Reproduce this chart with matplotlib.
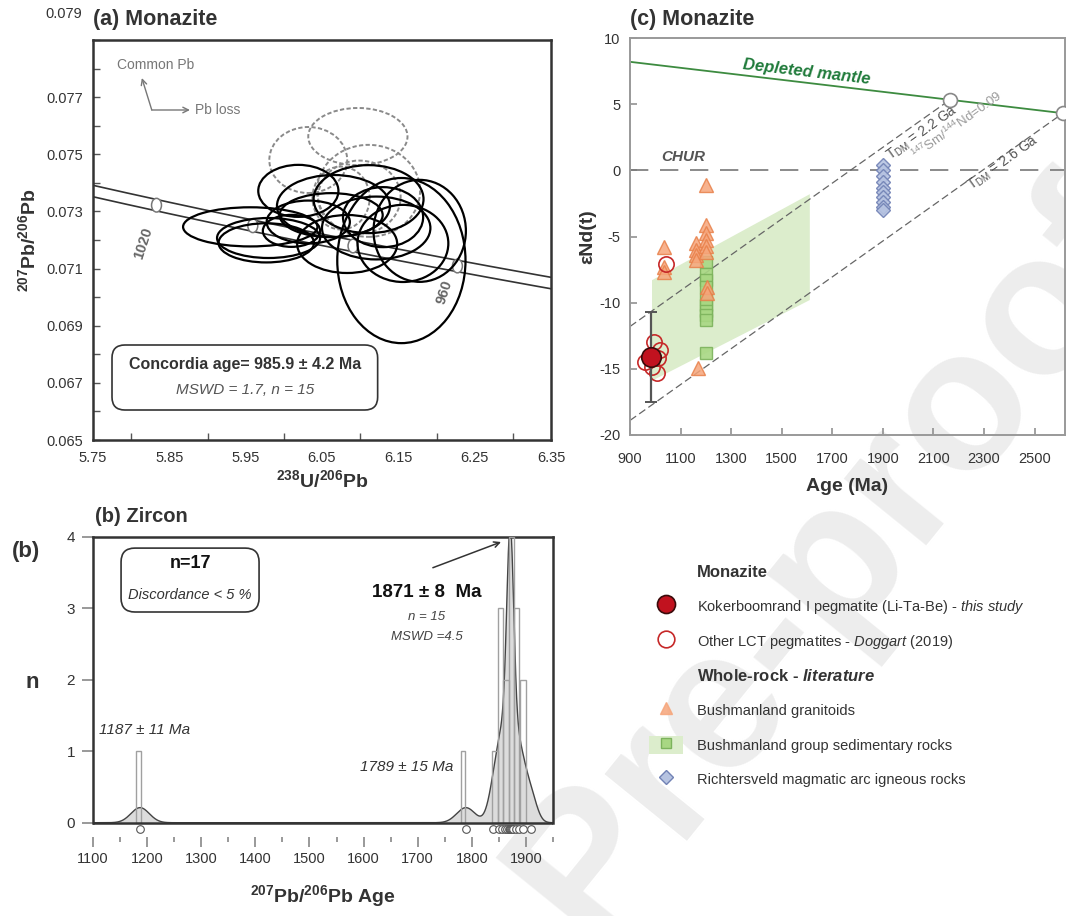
import numpy as np
import matplotlib
matplotlib.use("Agg")
import matplotlib.pyplot as plt
from matplotlib.patches import Ellipse, FancyBboxPatch, Polygon, Rectangle
from matplotlib.lines import Line2D
from matplotlib.legend_handler import HandlerTuple

FONT = "Liberation Sans"
plt.rcParams["font.family"] = [FONT, "DejaVu Sans"]
plt.rcParams["mathtext.fontset"] = "custom"
plt.rcParams["mathtext.rm"] = FONT
plt.rcParams["mathtext.it"] = FONT + ":italic"
plt.rcParams["mathtext.bf"] = FONT + ":bold"
plt.rcParams["mathtext.bfit"] = FONT + ":italic:bold"
plt.rcParams["axes.unicode_minus"] = False

# ---------------- (a) monazite U-Pb (Tera-Wasserburg) ----------------
conc_marks = [1020, 1000, 980, 960]          # ages marked on concordia (Ma)
# accepted analyses (2 sigma ellipses)
ell_x = [6.154, 5.956, 5.980, 5.977, 6.019, 6.065, 6.111, 6.178, 6.156, 6.083, 6.032, 6.062, 6.121, 6.010, 6.130]
ell_y = [0.07128, 0.07246, 0.07207, 0.07190, 0.07372, 0.07319, 0.07343, 0.07232, 0.07188, 0.07186, 0.07263, 0.07287, 0.07242, 0.07232, 0.07280]
ell_w = [0.168, 0.176, 0.135, 0.125, 0.105, 0.148, 0.144, 0.121, 0.119, 0.131, 0.109, 0.135, 0.142, 0.075, 0.105]
ell_h = [0.00578, 0.00137, 0.00140, 0.00137, 0.00182, 0.00217, 0.00238, 0.00357, 0.00270, 0.00203, 0.00150, 0.00154, 0.00220, 0.00112, 0.00210]
# rejected analyses (dashed)
rej_x = [6.097, 6.032, 6.111, 6.099, 6.075]
rej_y = [0.07562, 0.07480, 0.07372, 0.07350, 0.07347]
rej_w = [0.130, 0.102, 0.135, 0.108, 0.075]
rej_h = [0.00200, 0.00231, 0.00322, 0.00256, 0.00220]

LAM238, LAM235, U85 = 1.55125e-4, 9.8485e-4, 137.88   # decay constants per Ma


def tera_wasserburg(t):
    t = np.asarray(t, float)
    d = np.expm1(LAM238 * t)
    return 1.0 / d, np.expm1(LAM235 * t) / d / U85


# ---------------- (b) zircon 207Pb/206Pb ages ----------------
zr_age = [1187, 1789, 1840, 1850, 1856, 1861, 1865, 1868, 1870, 1871, 1872, 1874, 1877, 1881, 1887, 1895, 1910]
zr_sig = [17, 17, 11, 11, 11, 11, 11, 6, 6, 6, 6, 6, 11, 11, 11, 11, 11]
hist_left = [1180, 1780, 1838, 1849, 1858, 1869, 1878, 1889]
hist_width = [9, 8, 11, 9, 11, 9, 10, 11]
hist_n = [1, 1, 1, 3, 2, 4, 3, 2]
PDP_SCALE = 9.0

# ---------------- (c) Nd isotopes ----------------
dm_age = [900, 2620]
dm_eps = [8.2, 4.3]
tdm_age = [2165, 2612]
smnd_start_age = [900, 900]
smnd_start_eps = [-11.8, -18.9]
field_age = [987, 1611, 1611, 987]
field_eps = [-8.3, -1.8, -9.8, -15.9]
kb_age = [983]
kb_eps = [-14.1]
kb_err = [3.4]
dg_age = [995, 1018, 959, 1012, 986, 1005, 1042]
dg_eps = [-12.95, -13.6, -14.5, -14.2, -14.85, -15.3, -7.1]
gr_age = [1034, 1034, 1034, 1161, 1161, 1161, 1161, 1200, 1200, 1200, 1200, 1200, 1200, 1206, 1206, 1168]
gr_eps = [-5.8, -7.3, -7.7, -5.5, -6.0, -6.4, -6.8, -1.1, -4.1, -4.7, -5.3, -5.7, -6.2, -8.8, -9.3, -14.9]
sed_age = [1200] * 10
sed_eps = [-6.9, -7.8, -8.3, -8.8, -9.7, -10.2, -10.6, -10.9, -11.3, -13.8]
rv_age = [1900] * 10
rv_eps = [0.4, 0.0, -0.4, -0.9, -1.3, -1.6, -2.0, -2.4, -2.8, -3.0]

DARK = "#333333"
W, H = 1066, 916
fig = plt.figure(figsize=(W / 100, H / 100), dpi=100)


def px_rect(l, t, r, b):
    return [l / W, 1 - b / H, (r - l) / W, (b - t) / H]


# watermark
fig.text(835 / W, 1 - 560 / H, "Pre-proof", rotation=51, fontsize=145, color="#ededed",
         fontweight="bold", ha="center", va="center", zorder=-5)

# ===================== panel (a) =====================
axa = fig.add_axes(px_rect(93, 40, 551, 440))
axa.set_facecolor("none")
t = np.linspace(900, 1100, 400)
cx, cy = tera_wasserburg(t)
for off in (-0.0002, 0.0002):
    axa.plot(cx, cy + off, color=DARK, lw=1.2, zorder=2)
mx, my = tera_wasserburg(conc_marks)
for x, y in zip(mx, my):
    axa.add_patch(Ellipse((x, y), 0.013, 0.00048, fc="white", ec="#777777", lw=1.1, zorder=3))
for x, y, w, h in zip(rej_x, rej_y, rej_w, rej_h):
    axa.add_patch(Ellipse((x, y), w, h, fc="none", ec="#8a8a8a", lw=1.4, ls=(0, (2.2, 1.2)), zorder=4))
for x, y, w, h in zip(ell_x, ell_y, ell_w, ell_h):
    axa.add_patch(Ellipse((x, y), w, h, fc="none", ec="black", lw=1.6, zorder=5))

axa.text(5.816, 0.0719, "1020", rotation=72, color="#666666", fontsize=10.5, fontweight="bold",
         ha="center", va="center")
axa.text(6.210, 0.07018, "960", rotation=72, color="#666666", fontsize=10.5, fontweight="bold",
         ha="center", va="center")

arr = dict(arrowstyle="->", color="#777777", lw=1.0, shrinkA=0, shrinkB=0)
axa.annotate("", xy=(5.814, 0.07767), xytext=(5.827, 0.07655), arrowprops=arr)
axa.annotate("", xy=(5.877, 0.07655), xytext=(5.827, 0.07655), arrowprops=arr)
axa.text(5.782, 0.07812, "Common Pb", color="#777777", fontsize=10, va="center")
axa.text(5.884, 0.07655, "Pb loss", color="#777777", fontsize=10, va="center")

axa.add_patch(FancyBboxPatch((0.0415, 0.075), 0.58, 0.1625, boxstyle="round,pad=0,rounding_size=0.028",
                             transform=axa.transAxes, fc="white", ec=DARK, lw=1.2, zorder=6,
                             mutation_aspect=458 / 400))
axa.text(0.332, 0.19, "Concordia age= 985.9 ± 4.2 Ma", transform=axa.transAxes, ha="center",
         va="center", fontsize=11.5, fontweight="bold", color=DARK, zorder=7)
axa.text(0.332, 0.125, "MSWD = 1.7, n = 15", transform=axa.transAxes, ha="center", va="center",
         fontsize=11, style="italic", color="#555555", zorder=7)

axa.set_xlim(5.75, 6.35)
axa.set_ylim(0.065, 0.079)
xt = np.round(np.arange(5.75, 6.351, 0.1), 2)
axa.set_xticks(xt)
axa.set_xticklabels([f"{v:.2f}" for v in xt])
axa.set_xticks(np.round(np.arange(5.80, 6.35, 0.1), 2), minor=True)
yt = np.round(np.arange(0.065, 0.0791, 0.002), 3)
axa.set_yticks(yt)
axa.set_yticklabels([f"{v:.3f}" if v < 0.0789 else "" for v in yt])
axa.set_yticks(np.round(np.arange(0.066, 0.079, 0.002), 3), minor=True)
axa.text(-0.024, 0.0799, "0.079", transform=axa.get_yaxis_transform(), ha="right", va="center",
         fontsize=10.5, color=DARK)
axa.tick_params(which="both", direction="in", length=5, width=1, color="#555555",
                labelsize=10.5, labelcolor=DARK)
axa.tick_params(axis="x", which="major", length=0, pad=8)
axa.tick_params(axis="y", which="major", pad=7)
for s in axa.spines.values():
    s.set_color(DARK)
    s.set_linewidth(1.8)
axa.set_xlabel(r"$\mathbf{^{238}U/^{206}Pb}$", fontsize=14, labelpad=3, color=DARK)
axa.set_ylabel(r"$\mathbf{^{207}Pb/^{206}Pb}$", fontsize=14, labelpad=5, color=DARK)
fig.text(93 / W, 1 - 20 / H, "(a) Monazite", ha="left", va="center", fontsize=15.5,
         fontweight="bold", color=DARK)

# ===================== panel (b) =====================
axb = fig.add_axes(px_rect(93, 537, 553, 837))
axb.set_facecolor("none")
xg = np.linspace(1100, 1950, 3000)
pdp = np.zeros_like(xg)
for a, s in zip(zr_age, zr_sig):
    pdp += np.exp(-0.5 * ((xg - a) / s) ** 2) / (s * np.sqrt(2 * np.pi))
pdp *= PDP_SCALE
axb.fill_between(xg, 0, pdp, where=pdp > 0.004, color="#dcdcdc", lw=0, zorder=1)
axb.plot(xg, pdp, color="#444444", lw=1.0, zorder=2)
axb.bar(hist_left, hist_n, width=hist_width, align="edge", fc="none", ec="#a0a0a0", lw=1.0, zorder=3)
axb.plot(zr_age, np.full(len(zr_age), -0.09), "o", mfc="white", mec="#555555", ms=5.5, mew=0.8,
         clip_on=False, zorder=4)
axb.axhline(0, color=DARK, lw=1.8, zorder=5)
axb.set_xlim(1100, 1950)
axb.set_ylim(-0.2, 4)
axb.spines["bottom"].set_visible(False)
for k in ("left", "right"):
    axb.spines[k].set_bounds(0, 4)
for k in ("left", "right", "top"):
    axb.spines[k].set_color(DARK)
    axb.spines[k].set_linewidth(1.8)
axb.set_yticks([0, 1, 2, 3, 4])
axb.set_xticks(np.arange(1100, 1901, 100))
axb.set_xticks(np.arange(1150, 1951, 100), minor=True)
axb.tick_params(axis="y", direction="out", length=8, width=1.2, color="#888888", labelsize=11,
                labelcolor=DARK, pad=5)
axb.tick_params(axis="x", which="major", direction="out", length=7, width=1.2, color="#888888",
                labelsize=10.5, labelcolor=DARK, pad=4)
axb.tick_params(axis="x", which="minor", direction="out", length=3.5, width=1.2, color="#888888")

axb.text(1196, 1.3, "1187 ± 11 Ma", style="italic", fontsize=11, ha="center", va="center", color=DARK)
axb.text(1680, 0.78, "1789 ± 15 Ma", style="italic", fontsize=11, ha="center", va="center", color=DARK)
axb.text(1717, 3.22, "1871 ± 8  Ma", fontweight="bold", fontsize=13.5, ha="center", va="center", color="#111111")
axb.text(1717, 2.88, "n = 15", style="italic", fontsize=9.5, ha="center", va="center", color="#444444")
axb.text(1717, 2.60, "MSWD =4.5", style="italic", fontsize=9.5, ha="center", va="center", color="#444444")
axb.annotate("", xy=(1854, 3.93), xytext=(1728, 3.57),
             arrowprops=dict(arrowstyle="->", color=DARK, lw=1.1, shrinkA=0, shrinkB=0))
axb.add_patch(FancyBboxPatch((0.061, 0.75), 0.30, 0.213, boxstyle="round,pad=0,rounding_size=0.03",
                             transform=axb.transAxes, fc="white", ec=DARK, lw=1.2, zorder=6,
                             mutation_aspect=460 / 300))
axb.text(0.211, 0.913, "n=17", transform=axb.transAxes, ha="center", va="center", fontsize=13,
         fontweight="bold", color="#111111", zorder=7)
axb.text(0.211, 0.807, "Discordance < 5 %", transform=axb.transAxes, ha="center", va="center",
         fontsize=10.5, style="italic", color=DARK, zorder=7)
axb.set_xlabel(r"$\mathbf{^{207}Pb/^{206}Pb\ Age}$", fontsize=14, labelpad=12, color=DARK)
fig.text(95 / W, 1 - 517 / H, "(b) Zircon", ha="left", va="center", fontsize=14.5, fontweight="bold", color=DARK)
fig.text(26 / W, 1 - 552 / H, "(b)", ha="center", va="center", fontsize=16, fontweight="bold", color=DARK)
fig.text(32 / W, 1 - 683 / H, "n", ha="center", va="center", fontsize=16, fontweight="bold", color=DARK)

# ===================== panel (c) =====================
axc = fig.add_axes(px_rect(630, 38, 1065, 435))
axc.set_facecolor("none")
axc.add_patch(Polygon(list(zip(field_age, field_eps)), closed=True, fc="#dcedcc", ec="none", zorder=1))
axc.axhline(0, color="#777777", lw=1.2, dashes=(11, 7), zorder=2)
axc.plot(dm_age, dm_eps, color="#3d8b40", lw=1.3, zorder=2)
tdm_eps = np.interp(tdm_age, dm_age, dm_eps)
for a0, e0, a1, e1 in zip(smnd_start_age, smnd_start_eps, tdm_age, tdm_eps):
    axc.plot([a0, a1], [e0, e1], color="#666666", lw=0.9, dashes=(6, 3), zorder=2)
axc.plot(tdm_age, tdm_eps, "o", mfc="white", mec="#888888", ms=10, mew=1.2, clip_on=False, zorder=8)

axc.plot(sed_age, sed_eps, "s", mfc="#a8d783", mec="#7cb35c", ms=8, mew=1, alpha=0.9, zorder=3)
axc.plot(gr_age, gr_eps, "^", mfc="#f6a57a", mec="#e8804a", ms=9.5, mew=1, alpha=0.85, zorder=4)
axc.plot(rv_age, rv_eps, "D", mfc="#b6c3e1", mec="#7182b5", ms=7.5, mew=1, alpha=0.9, zorder=4)
axc.plot(dg_age, dg_eps, "o", mfc="none", mec="#c62828", ms=11, mew=1.2, zorder=5)
axc.errorbar(kb_age, kb_eps, yerr=kb_err, fmt="none", ecolor="#555555", elinewidth=1.6, capsize=4,
             capthick=1.4, zorder=6)
axc.plot(kb_age, kb_eps, "o", mfc="#c1121f", mec="#3a0b0b", ms=14, mew=1.2, zorder=7)

axc.text(1599, 7.43, "Depleted mantle", rotation=-6.7, color="#1f7a3a", fontsize=12,
         fontweight="bold", style="italic", ha="center", va="center", rotation_mode="anchor")
axc.text(1109, 1.0, "CHUR", color="#555555", fontsize=11, fontweight="bold", style="italic",
         ha="center", va="center")
axc.text(2054, 2.82, r"T$_{\mathrm{DM}}$ = 2.2 Ga", rotation=35.5, color="#555555", fontsize=10,
         ha="center", va="center", rotation_mode="anchor")
axc.text(2192, 3.42, r"$^{147}$Sm/$^{144}$Nd=0.09", rotation=35.5, color="#9a9a9a", fontsize=9.5,
         ha="center", va="center", rotation_mode="anchor")
axc.text(2374, 0.55, r"T$_{\mathrm{DM}}$ = 2.6 Ga", rotation=35.5, color="#555555", fontsize=10,
         ha="center", va="center", rotation_mode="anchor")

axc.set_xlim(900, 2620)
axc.set_ylim(-20, 10)
axc.set_xticks(np.arange(900, 2501, 200))
axc.set_yticks(np.arange(-20, 11, 5))
axc.tick_params(direction="in", length=5, width=1.1, color="#888888", labelsize=10.5,
                labelcolor=DARK, pad=7)
axc.tick_params(axis="x", pad=12)
for s in axc.spines.values():
    s.set_color("#999999")
    s.set_linewidth(1.4)
axc.set_xlabel("Age (Ma)", fontsize=14, fontweight="bold", color=DARK, labelpad=9)
axc.set_ylabel("εNd(t)", fontsize=14, fontweight="bold", color=DARK, labelpad=2)
fig.text(630 / W, 1 - 20 / H, "(c) Monazite", ha="left", va="center", fontsize=15.5,
         fontweight="bold", color=DARK)

# legend
blank = Line2D([], [], ls="none")
handles = [
    blank,
    Line2D([], [], ls="none", marker="o", mfc="#c1121f", mec="#3a0b0b", ms=13, mew=1.2),
    Line2D([], [], ls="none", marker="o", mfc="none", mec="#c62828", ms=12, mew=1.2),
    blank,
    Line2D([], [], ls="none", marker="^", mfc="#f6a57a", mec="#f6a57a", ms=8, alpha=0.85),
    (Rectangle((0, 0), 1, 1, fc="#dcedcc", ec="none"),
     Line2D([], [], ls="none", marker="s", mfc="#a8d783", mec="#7cb35c", ms=7.5)),
    Line2D([], [], ls="none", marker="D", mfc="#b6c3e1", mec="#7182b5", ms=7),
]
labels = [
    "Monazite",
    r"Kokerboomrand I pegmatite (Li-Ta-Be) - $\mathit{this\ study}$",
    r"Other LCT pegmatites - $\mathit{Doggart\ (2019)}$",
    r"Whole-rock - $\mathbfit{literature}$",
    "Bushmanland granitoids",
    "Bushmanland group sedimentary rocks",
    "Richtersveld magmatic arc igneous rocks",
]
leg = fig.legend(handles, labels, loc="upper left", bbox_to_anchor=(649 / W, 1 - 563 / H),
                 frameon=False, fontsize=10.5, handlelength=2.33, handleheight=1.58,
                 handletextpad=0.96, labelspacing=1.08, borderpad=0, borderaxespad=0,
                 handler_map={tuple: HandlerTuple(ndivide=1)})
for i, txt in enumerate(leg.get_texts()):
    txt.set_color(DARK)
    if i in (0, 3):
        txt.set_fontweight("bold")
        txt.set_fontsize(12)

fig.savefig("out.png", dpi=100)
